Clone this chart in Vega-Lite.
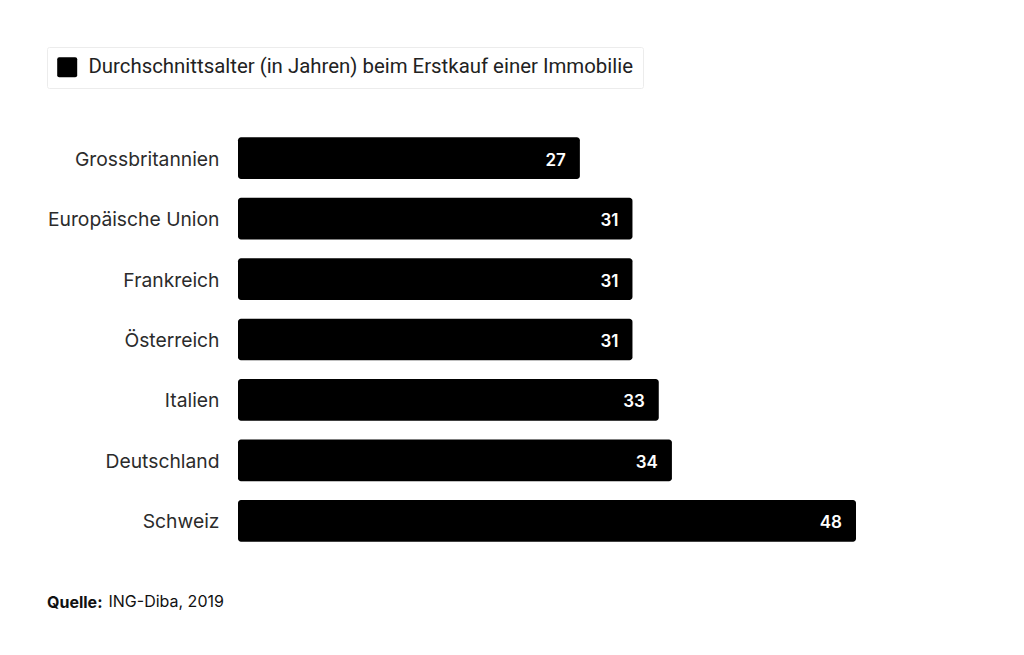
{
  "$schema": "https://vega.github.io/schema/vega-lite/v6.json",
  "width": 618,
  "height": 423,
  "autosize": "none",
  "padding": {"left": 238, "top": 128, "right": 168, "bottom": 104},
  "background": "#ffffff",
  "config": {"view": {"stroke": null}, "font": "Inter"},
  "title": {
    "text": "Quelle:",
    "orient": "bottom",
    "anchor": "start",
    "frame": "group",
    "dx": -191,
    "offset": -14,
    "font": "Inter",
    "fontSize": 16,
    "fontWeight": "bold",
    "color": "#111111"
  },
  "data": {
    "values": [
      {"land": "Grossbritannien", "alter": 27, "serie": "Durchschnittsalter (in Jahren) beim Erstkauf einer Immobilie"},
      {"land": "Europäische Union", "alter": 31, "serie": "Durchschnittsalter (in Jahren) beim Erstkauf einer Immobilie"},
      {"land": "Frankreich", "alter": 31, "serie": "Durchschnittsalter (in Jahren) beim Erstkauf einer Immobilie"},
      {"land": "Österreich", "alter": 31, "serie": "Durchschnittsalter (in Jahren) beim Erstkauf einer Immobilie"},
      {"land": "Italien", "alter": 33, "serie": "Durchschnittsalter (in Jahren) beim Erstkauf einer Immobilie"},
      {"land": "Deutschland", "alter": 34, "serie": "Durchschnittsalter (in Jahren) beim Erstkauf einer Immobilie"},
      {"land": "Schweiz", "alter": 48, "serie": "Durchschnittsalter (in Jahren) beim Erstkauf einer Immobilie"}
    ]
  },
  "encoding": {
    "y": {
      "field": "land",
      "type": "nominal",
      "sort": null,
      "scale": {"paddingInner": 0.31, "paddingOuter": 0.155},
      "axis": {
        "title": null,
        "domain": false,
        "ticks": false,
        "labelPadding": 19,
        "labelOffset": 1.5,
        "labelFont": "Inter",
        "labelFontSize": 19.3,
        "labelColor": "#2b2b2b"
      }
    },
    "x": {
      "field": "alter",
      "type": "quantitative",
      "scale": {"domain": [1, 48], "zero": false, "nice": false},
      "axis": {
        "domain": false,
        "ticks": false,
        "labels": false,
        "grid": false,
        "title": "ING-Diba, 2019",
        "titleFont": "Inter",
        "titleFontSize": 16,
        "titleFontWeight": "normal",
        "titleColor": "#111111",
        "titleAlign": "left",
        "titleAnchor": "start",
        "titleBaseline": "alphabetic",
        "titleX": -130,
        "titleY": 55
      }
    }
  },
  "layer": [
    {
      "mark": {"type": "bar", "cornerRadius": 3},
      "encoding": {
        "x2": {"datum": 1},
        "color": {
          "field": "serie",
          "type": "nominal",
          "scale": {"range": ["#000000"]},
          "legend": {
            "title": null,
            "orient": "none",
            "legendX": -191,
            "legendY": -81,
            "padding": 10,
            "strokeColor": "#ececec",
            "fillColor": "#ffffff",
            "cornerRadius": 2,
            "symbolType": "M-0.8,-1H0.8Q1,-1 1,-0.8V0.8Q1,1 0.8,1H-0.8Q-1,1 -1,0.8V-0.8Q-1,-1 -0.8,-1Z",
            "symbolSize": 400,
            "symbolStrokeWidth": 0,
            "symbolFillColor": "#000000",
            "labelFont": "Roboto",
            "labelFontSize": 20.4,
            "labelColor": "#222222",
            "labelOffset": 11,
            "labelLimit": 800
          }
        }
      }
    },
    {
      "mark": {
        "type": "text",
        "align": "right",
        "baseline": "middle",
        "dx": -14,
        "dy": 2.5,
        "color": "#ffffff",
        "font": "Inter",
        "fontSize": 17,
        "fontWeight": 600
      },
      "encoding": {"text": {"field": "alter", "type": "quantitative"}}
    }
  ]
}
